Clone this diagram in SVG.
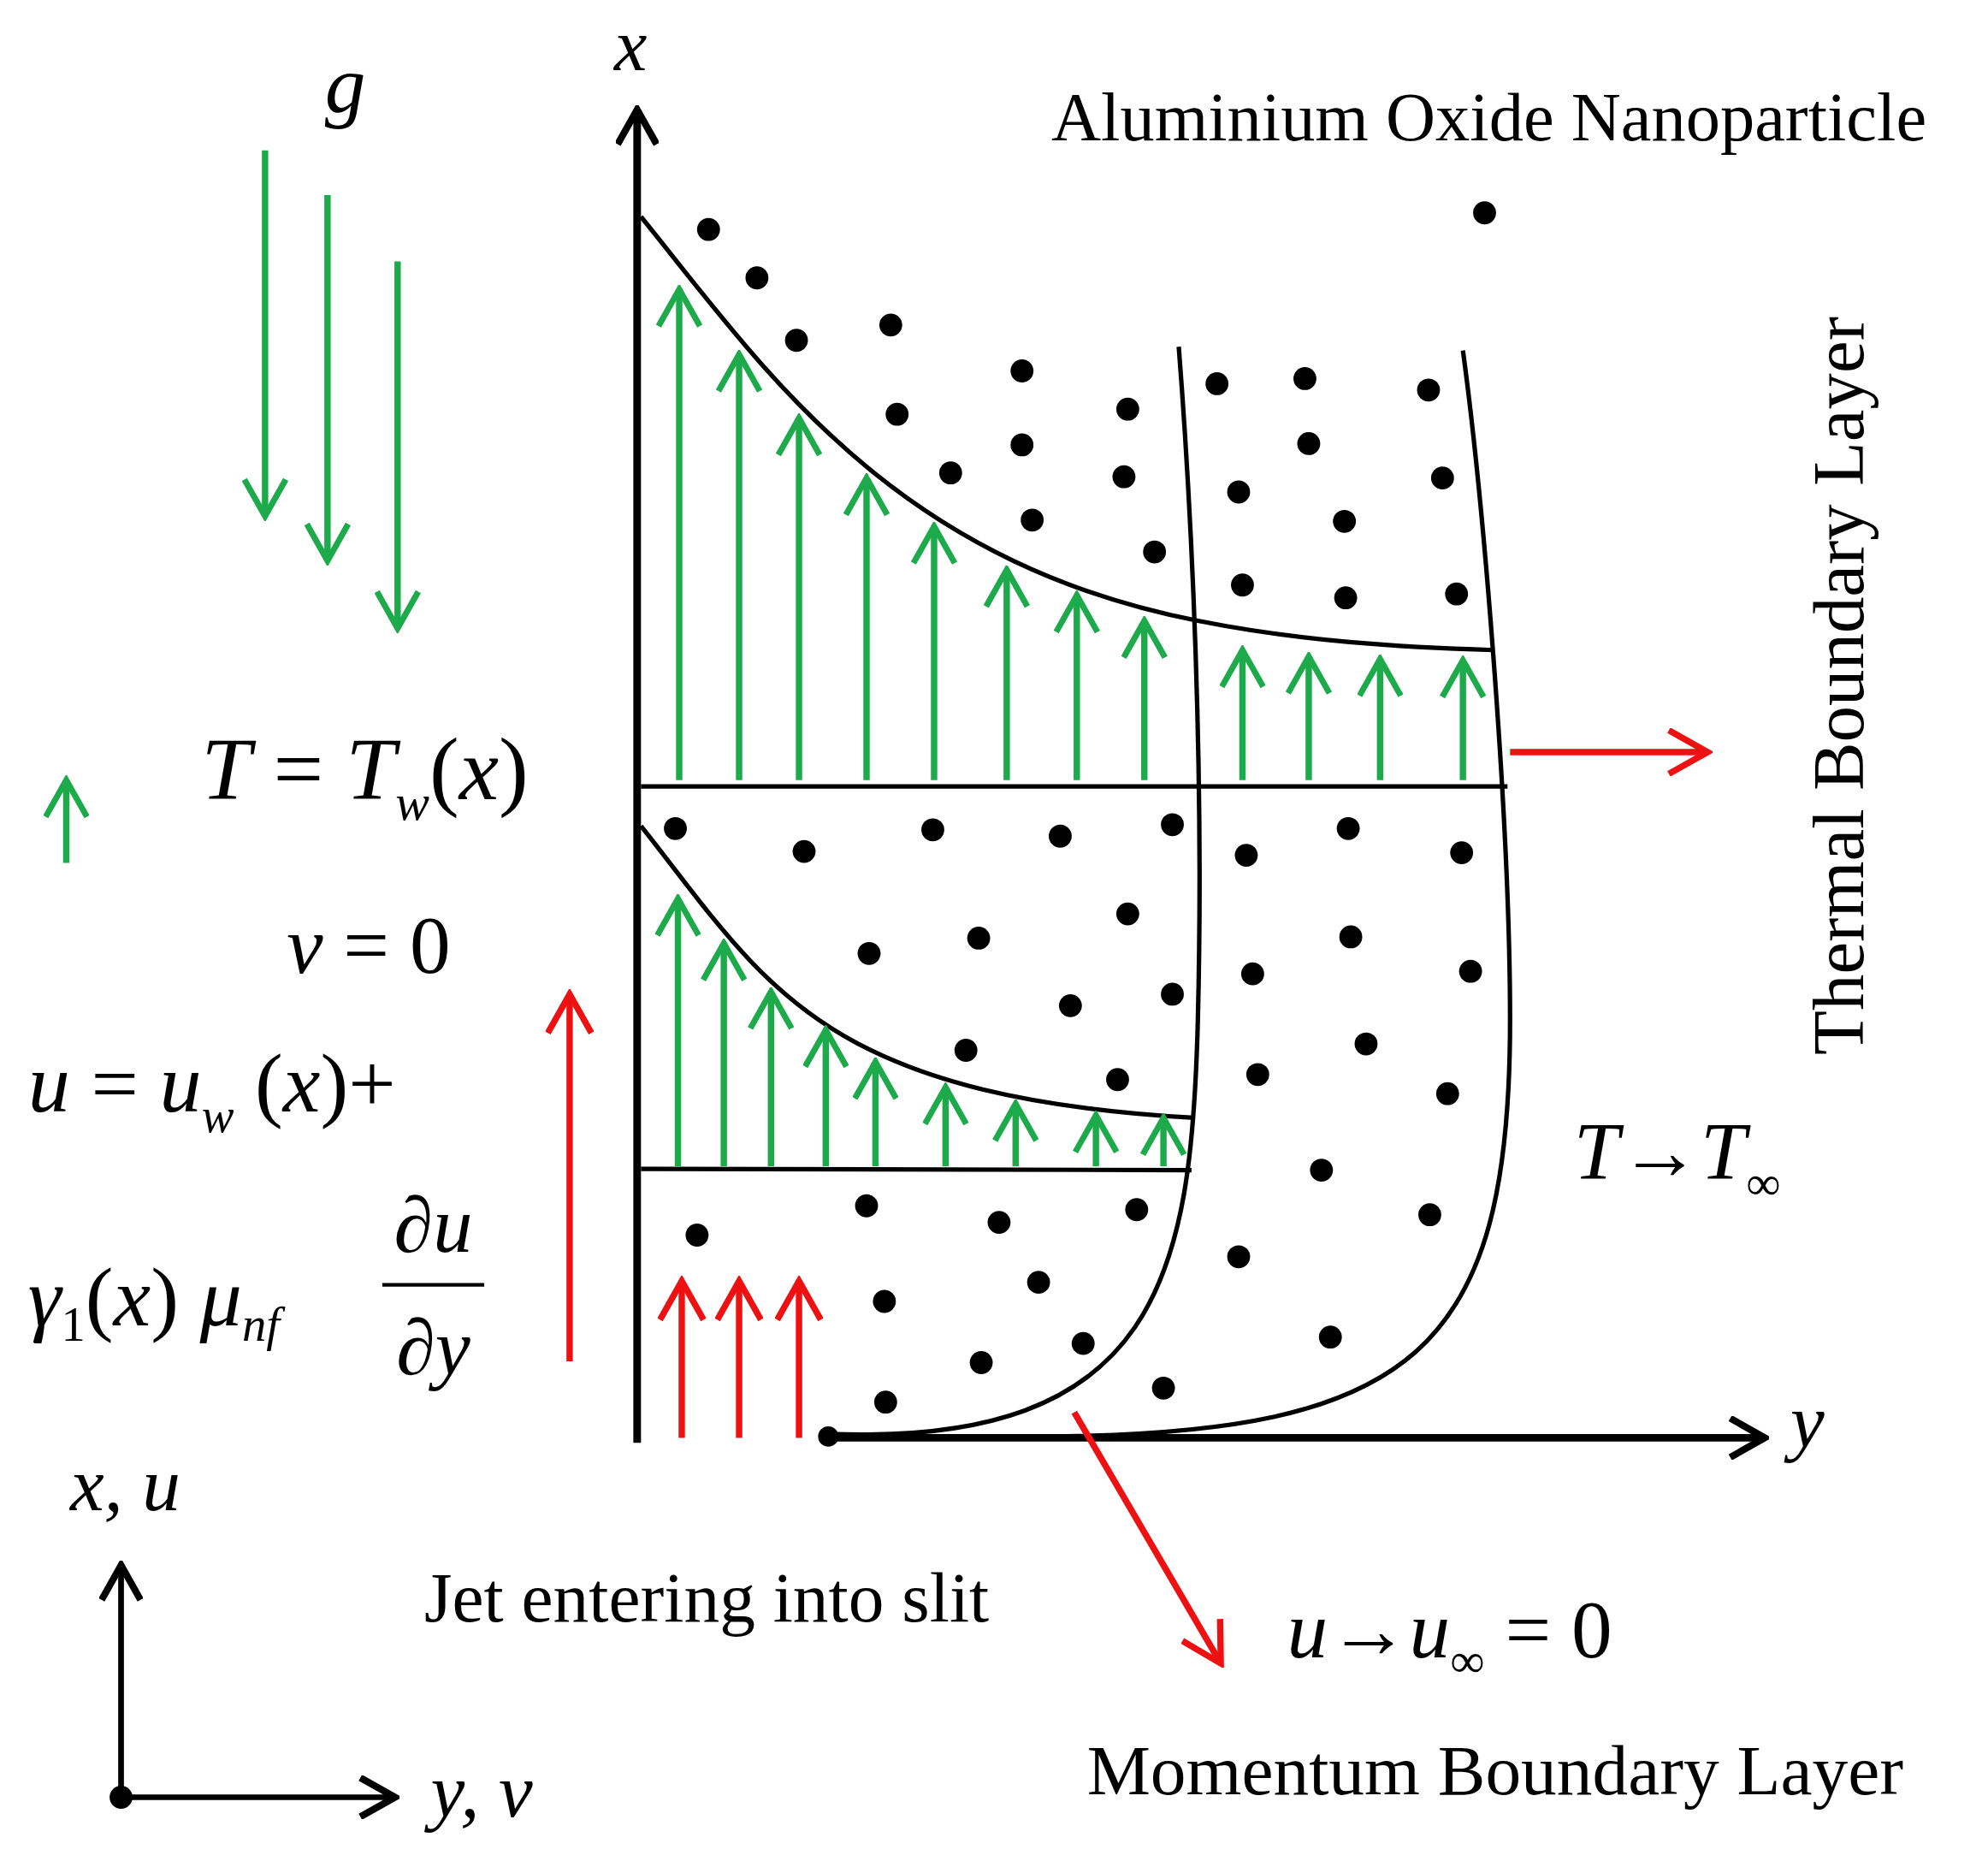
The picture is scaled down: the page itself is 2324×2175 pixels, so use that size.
<svg xmlns="http://www.w3.org/2000/svg" width="2324" height="2175" viewBox="0 0 2324 2175">
<defs>
<marker id="ab" markerWidth="10" markerHeight="10" refX="8" refY="5" orient="auto" markerUnits="userSpaceOnUse" viewBox="0 0 10 10"><path d="M0,0 L9,5 L0,10" fill="none" stroke="#000" stroke-width="1.4"/></marker>
<marker id="ag" viewBox="0 0 10 10" refX="9" refY="5" markerWidth="36" markerHeight="36" orient="auto" markerUnits="userSpaceOnUse"><path d="M1,0.5 L9,5 L1,9.5" fill="none" stroke="#1daa4b" stroke-width="1.3"/></marker>
<marker id="ar" viewBox="0 0 10 10" refX="9" refY="5" markerWidth="38" markerHeight="38" orient="auto" markerUnits="userSpaceOnUse"><path d="M1,0.5 L9,5 L1,9.5" fill="none" stroke="#ee1111" stroke-width="1.3"/></marker>
<marker id="ak" viewBox="0 0 10 10" refX="9" refY="5" markerWidth="34" markerHeight="34" orient="auto" markerUnits="userSpaceOnUse"><path d="M1,0.5 L9,5 L1,9.5" fill="none" stroke="#000" stroke-width="1.6"/></marker>
<style>
.g{stroke:#1daa4b;stroke-width:5;fill:none;marker-end:url(#ag)}
.r{stroke:#ee1111;stroke-width:5;fill:none;marker-end:url(#ar)}
.k{stroke:#000;stroke-width:6;fill:none}
.c{stroke:#000;stroke-width:3.5;fill:none}
text{font-family:"Liberation Serif","Times New Roman",serif;fill:#000}
.i{font-style:italic}
</style>
</defs>
<g transform="scale(1.4897)">
<g id="connectors">
<line class="k" x1="500" y1="1132" x2="500" y2="86" marker-end="url(#ak)"/>
<line class="k" x1="650" y1="1128" x2="1385" y2="1128" marker-end="url(#ak)"/>
<circle cx="650" cy="1127" r="8"/>
<path class="c" d="M503,170 C600,290 700,440 940,487 C1020,503 1100,508 1172,510"/>
<line class="c" x1="503" y1="617" x2="1183" y2="617"/>
<path class="c" d="M503,648 C600,770 640,860 937,877"/>
<line class="c" x1="503" y1="917" x2="935" y2="918"/>
<path class="c" d="M925,272 C935,400 945,600 940,800 C935,1000 910,1135 650,1125"/>
<path class="c" d="M1148,275 C1165,400 1185,650 1185,800 C1185,1060 1110,1125 820,1127"/>
<g id="greenUpper">
<line class="g" x1="533" y1="612" x2="533" y2="227"/>
<line class="g" x1="580" y1="612" x2="580" y2="278"/>
<line class="g" x1="627" y1="612" x2="627" y2="328"/>
<line class="g" x1="680" y1="612" x2="680" y2="375"/>
<line class="g" x1="733" y1="612" x2="733" y2="413"/>
<line class="g" x1="790" y1="612" x2="790" y2="447"/>
<line class="g" x1="845" y1="612" x2="845" y2="467"/>
<line class="g" x1="898" y1="612" x2="898" y2="487"/>
<line class="g" x1="975" y1="612" x2="975" y2="510"/>
<line class="g" x1="1027" y1="612" x2="1027" y2="515"/>
<line class="g" x1="1083" y1="612" x2="1083" y2="517"/>
<line class="g" x1="1148" y1="612" x2="1148" y2="518"/>
</g>
<g id="greenLower">
<line class="g" x1="532" y1="915" x2="532" y2="705"/>
<line class="g" x1="568" y1="915" x2="568" y2="740"/>
<line class="g" x1="605" y1="915" x2="605" y2="778"/>
<line class="g" x1="648" y1="915" x2="648" y2="808"/>
<line class="g" x1="687" y1="915" x2="687" y2="833"/>
<line class="g" x1="742" y1="915" x2="742" y2="853"/>
<line class="g" x1="797" y1="915" x2="797" y2="866"/>
<line class="g" x1="860" y1="915" x2="860" y2="875"/>
<line class="g" x1="913" y1="915" x2="913" y2="877"/>
</g>
<line class="g" x1="208" y1="118" x2="208" y2="405"/>
<line class="g" x1="257" y1="153" x2="257" y2="440"/>
<line class="g" x1="312" y1="205" x2="312" y2="493"/>
<line class="g" x1="52" y1="677" x2="52" y2="612"/>
<line class="r" x1="535" y1="1128" x2="535" y2="1005"/>
<line class="r" x1="580" y1="1128" x2="580" y2="1005"/>
<line class="r" x1="627" y1="1128" x2="627" y2="1005"/>
<line class="r" x1="447" y1="1068" x2="447" y2="780"/>
<line class="r" x1="1185" y1="590" x2="1340" y2="590"/>
<line class="r" x1="843" y1="1108" x2="958" y2="1305"/>
<line class="k" x1="95" y1="1410" x2="95" y2="1228" style="stroke-width:4.5" marker-end="url(#ak)"/>
<line class="k" x1="95" y1="1410" x2="310" y2="1410" style="stroke-width:4.5" marker-end="url(#ak)"/>
<circle cx="95" cy="1410" r="9"/>
</g>
<g id="dots">
<circle cx="556" cy="180" r="9"/><circle cx="594" cy="218" r="9"/><circle cx="625" cy="267" r="9"/><circle cx="699" cy="255" r="9"/><circle cx="802" cy="291" r="9"/><circle cx="704" cy="325" r="9"/><circle cx="885" cy="321" r="9"/><circle cx="955" cy="301" r="9"/><circle cx="1024" cy="297" r="9"/><circle cx="1121" cy="306" r="9"/><circle cx="1165" cy="167" r="9"/><circle cx="802" cy="349" r="9"/><circle cx="746" cy="371" r="9"/><circle cx="882" cy="374" r="9"/><circle cx="972" cy="386" r="9"/><circle cx="1027" cy="348" r="9"/><circle cx="1132" cy="375" r="9"/><circle cx="810" cy="408" r="9"/><circle cx="906" cy="433" r="9"/><circle cx="1055" cy="409" r="9"/><circle cx="975" cy="459" r="9"/><circle cx="1056" cy="469" r="9"/><circle cx="1143" cy="466" r="9"/>
<circle cx="530" cy="650" r="9"/><circle cx="631" cy="668" r="9"/><circle cx="732" cy="651" r="9"/><circle cx="832" cy="656" r="9"/><circle cx="920" cy="647" r="9"/><circle cx="978" cy="671" r="9"/><circle cx="1058" cy="650" r="9"/><circle cx="1147" cy="669" r="9"/><circle cx="885" cy="717" r="9"/><circle cx="682" cy="748" r="9"/><circle cx="768" cy="736" r="9"/><circle cx="1060" cy="735" r="9"/><circle cx="920" cy="780" r="9"/><circle cx="983" cy="764" r="9"/><circle cx="1154" cy="762" r="9"/><circle cx="840" cy="789" r="9"/><circle cx="758" cy="824" r="9"/><circle cx="877" cy="847" r="9"/><circle cx="987" cy="843" r="9"/><circle cx="1072" cy="819" r="9"/><circle cx="1136" cy="858" r="9"/><circle cx="1037" cy="918" r="9"/>
<circle cx="680" cy="946" r="9"/><circle cx="784" cy="959" r="9"/><circle cx="892" cy="949" r="9"/><circle cx="547" cy="969" r="9"/><circle cx="815" cy="1006" r="9"/><circle cx="972" cy="986" r="9"/><circle cx="1122" cy="953" r="9"/><circle cx="694" cy="1021" r="9"/><circle cx="850" cy="1054" r="9"/><circle cx="1044" cy="1049" r="9"/><circle cx="770" cy="1069" r="9"/><circle cx="913" cy="1089" r="9"/><circle cx="695" cy="1100" r="9"/>
</g>
<g id="labels">
<text class="i" x="482" y="55" font-size="58">x</text>
<text class="i" x="1405" y="1135" font-size="60">y</text>
<text class="i" x="255" y="88" font-size="64">g</text>
<text x="825" y="110" font-size="54">Aluminium  Oxide Nanoparticle</text>
<text x="1462" y="538" font-size="57" text-anchor="middle" transform="rotate(-90 1462 538)">Thermal Boundary Layer</text>
<text x="158" y="627" font-size="70"><tspan class="i">T</tspan> = <tspan class="i">T</tspan><tspan class="i" font-size="40" dy="16">w</tspan><tspan dy="-16">(</tspan><tspan class="i">x</tspan>)</text>
<text x="225" y="763" font-size="64"><tspan class="i">v</tspan> = 0</text>
<text x="22" y="872" font-size="66"><tspan class="i">u</tspan> = <tspan class="i">u</tspan><tspan class="i" font-size="38" dy="16">w</tspan><tspan dy="-16"> (</tspan><tspan class="i">x</tspan>)+</text>
<text x="22" y="1040" font-size="66"><tspan class="i">γ</tspan><tspan font-size="38" dy="12">1</tspan><tspan dy="-12">(</tspan><tspan class="i">x</tspan>) <tspan class="i">μ</tspan><tspan class="i" font-size="38" dy="12">nf</tspan></text>
<text x="340" y="982" font-size="62" text-anchor="middle">∂<tspan class="i">u</tspan></text>
<line x1="300" y1="1008" x2="380" y2="1008" stroke="#000" stroke-width="3"/>
<text x="340" y="1078" font-size="62" text-anchor="middle">∂<tspan class="i">y</tspan></text>
<text x="1235" y="925" font-size="64"><tspan class="i">T</tspan>→<tspan class="i">T</tspan><tspan font-size="38" dy="16">∞</tspan></text>
<text class="i" x="55" y="1185" font-size="60">x, u</text>
<text class="i" x="338" y="1425" font-size="60">y, v</text>
<text x="333" y="1272" font-size="56">Jet entering into slit</text>
<text x="1010" y="1300" font-size="64"><tspan class="i">u</tspan>→<tspan class="i">u</tspan><tspan font-size="38" dy="16">∞</tspan><tspan dy="-16"> = 0</tspan></text>
<text x="853" y="1408" font-size="56">Momentum Boundary Layer</text>
</g>
</g>
</svg>
